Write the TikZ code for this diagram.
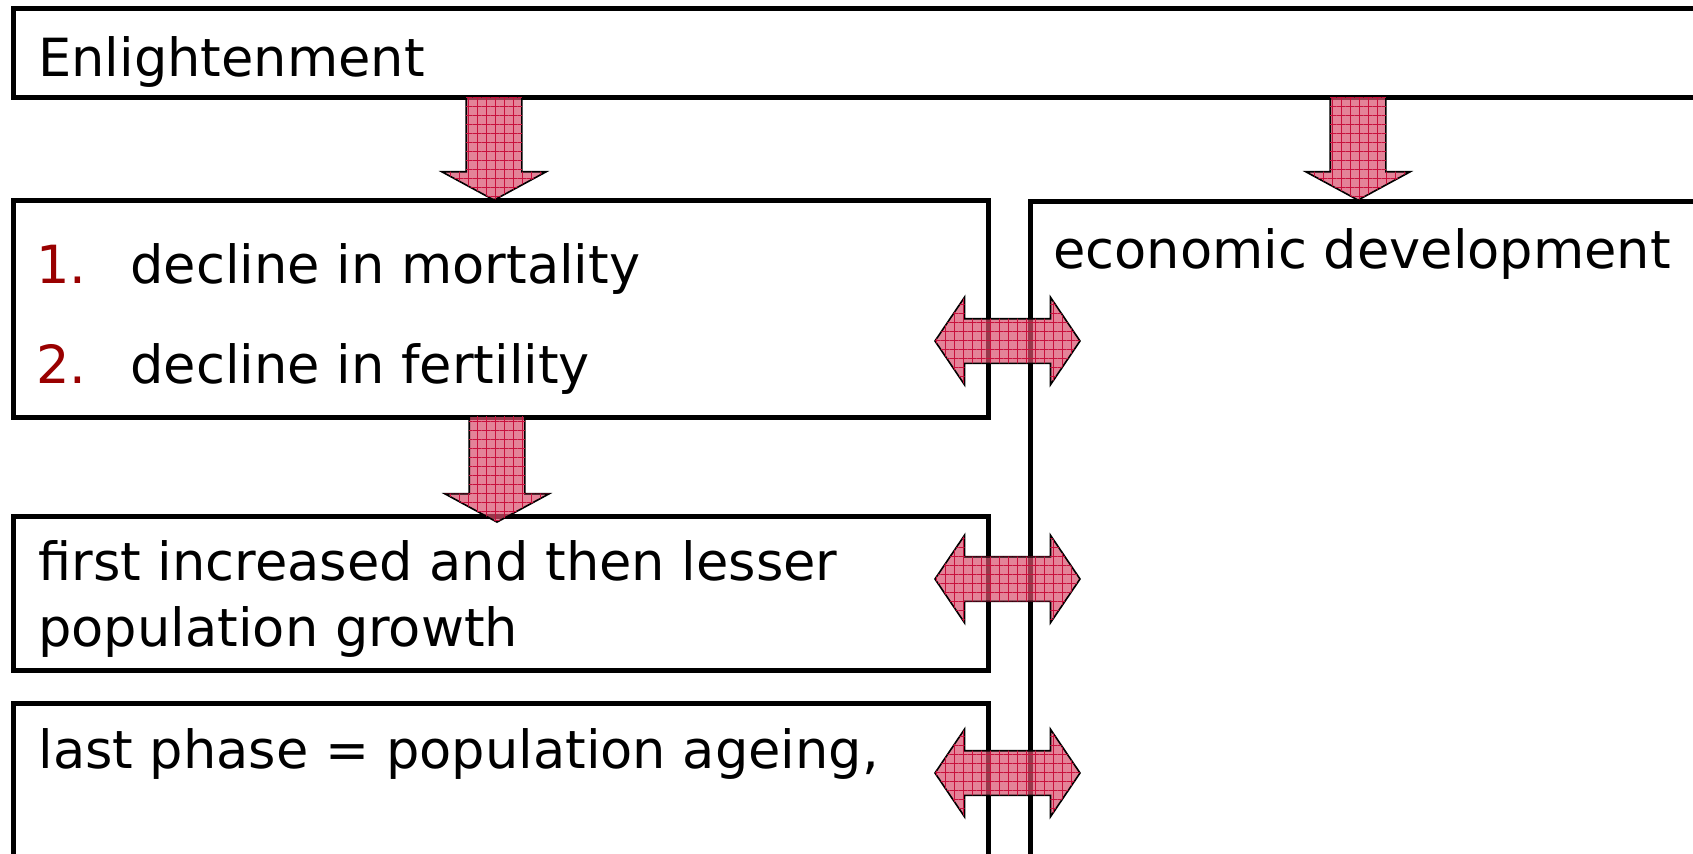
\documentclass[tikz,border=0pt]{standalone}
\usepackage{fontspec}
\setmainfont{DejaVu Sans}
\usetikzlibrary{shapes.arrows}
\usetikzlibrary{fit}
\usetikzlibrary{patterns.meta}
\definecolor{arrowpink}{HTML}{D94F6C}
\definecolor{gridred}{HTML}{C8103C}
\definecolor{numred}{HTML}{990000}

\begin{document}
\begin{tikzpicture}[x = 0.5pt, y = -0.5pt]
	\tikzstyle{boxStyle} = [draw, line width = 2.5pt, inner sep = 0pt]
	\tikzstyle{textStyle} = [anchor = base west, inner sep = 0pt, align = left, font = \fontsize{26.3}{33}\selectfont]
	\tikzstyle{numStyle} = [textStyle, text = numred]
	\tikzstyle{gridStyle} = [draw = black, line width = 0.8pt, fill = arrowpink, fill opacity = 0.7, inner xsep = 0pt,
		postaction = {pattern = {Lines[distance = 4.5pt, angle = 0, line width = 0.4pt]}, pattern color = gridred},
		postaction = {pattern = {Lines[distance = 4.5pt, angle = 90, line width = 0.4pt]}, pattern color = gridred}]
	\tikzstyle{downStyle} = [gridStyle, shape = single arrow, rotate = -90, anchor = tip, inner ysep = 13.5pt,
		single arrow head extend = 12.25pt, single arrow tip angle = 123]
	\tikzstyle{bothStyle} = [gridStyle, shape = double arrow, minimum height = 72.5pt, inner ysep = 10.75pt,
		double arrow head extend = 10.75pt, double arrow tip angle = 112]
	\useasboundingbox (0,0) rectangle (1693,853);
	\clip (0,0) rectangle (1693,853);
	% boxes
	\node[boxStyle, fit = {(13.5,8.5) (1720,97.5)}] (enlBox) {};
	\node[boxStyle, fit = {(13.5,200) (988,417)}] (declBox) {};
	\node[boxStyle, fit = {(1030,201) (1720,880)}] (econBox) {};
	\node[boxStyle, fit = {(13.5,516) (988,670)}] (growthBox) {};
	\node[boxStyle, fit = {(13.5,703) (988,880)}] (ageBox) {};
	% texts
	\node[textStyle] (enlText) at (38,76) {Enlightenment};
	\node[numStyle] (numOne) at (36,283) {1.};
	\node[textStyle] (mortText) at (130,283) {decline in mortality};
	\node[numStyle] (numTwo) at (36,383) {2.};
	\node[textStyle] (fertText) at (130,383) {decline in fertility};
	\node[textStyle] (econText) at (1053,268) {economic development};
	\node[textStyle] (growthText) at (38,646) {first increased and then lesser\\population growth};
	\node[textStyle] (ageText) at (38,768) {last phase = population ageing,};
	% arrows
	\node[downStyle, minimum height = 51.5pt] (enlDecl) at (494,201) {};
	\node[downStyle, minimum height = 51.5pt] (enlEcon) at (1358,201) {};
	\node[downStyle, minimum height = 53pt] (declGrowth) at (497,523) {};
	\foreach \y/\n in {341/Decl, 579/Growth, 773/Age}
		\node[bothStyle] (econ\n) at (1007.5,\y) {};
\end{tikzpicture}
\end{document}
